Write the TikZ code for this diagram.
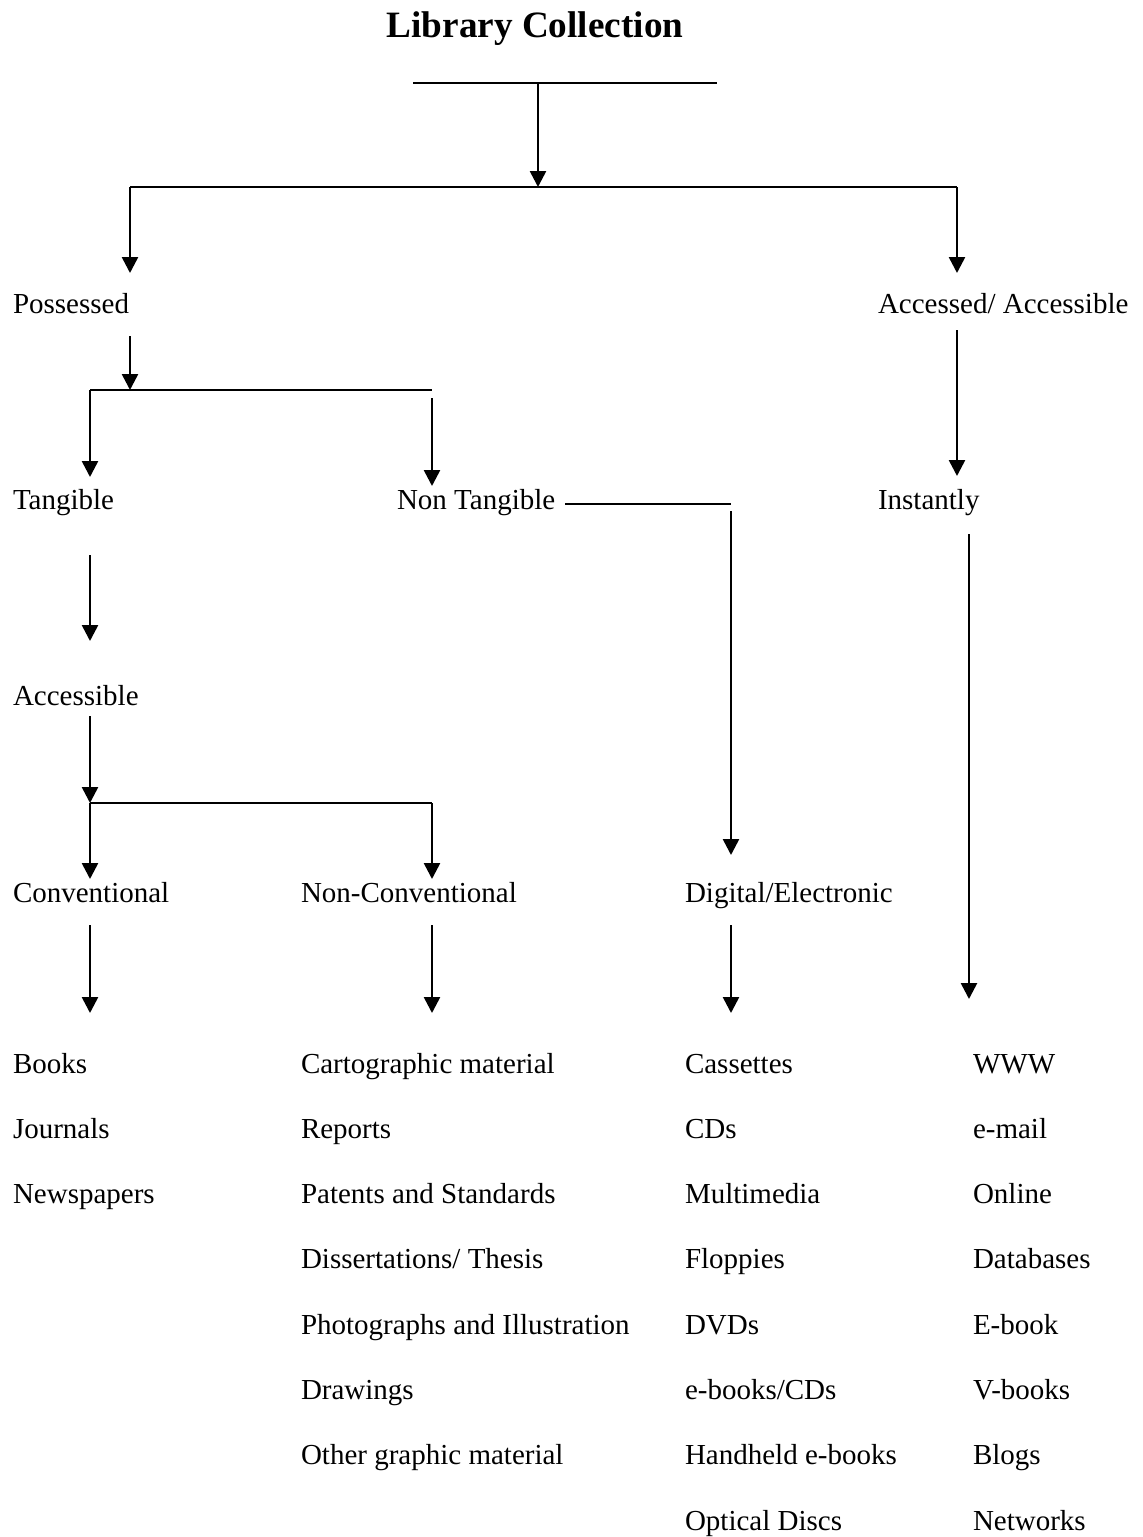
\documentclass[tikz,border=0pt]{standalone}
\usepackage{fontspec}
\setmainfont{Liberation Serif}
\usetikzlibrary{arrows.meta}

\tikzset{
  lbl/.style={anchor=base west,inner sep=0pt,font=\fontsize{14.5}{17}\selectfont},
  arr/.style={line width=1.3pt,-{Triangle[width=8pt,length=8pt]}},
}

\begin{document}
\begin{tikzpicture}[x=0.5pt,y=-0.5pt,line width=1pt]
  \useasboundingbox (0,0) rectangle (1143,1537);

  % Title
  \node[anchor=base,inner sep=0pt,font=\fontsize{18.6}{22}\selectfont\bfseries] (title) at (535,37) {Library Collection};

  % Headings
  \node[lbl] (poss) at (12,313) {Possessed};
  \node[lbl] (accd) at (877,313) {Accessed/ Accessible};
  \node[lbl] (tang) at (12,509) {Tangible};
  \node[lbl] (ntang) at (396,509) {Non Tangible};
  \node[lbl] (inst) at (877,509) {Instantly};
  \node[lbl] (accb) at (12,705) {Accessible};
  \node[lbl] (conv) at (12,902) {Conventional};
  \node[lbl] (nconv) at (300,902) {Non-Conventional};
  \node[lbl] (digi) at (684,902) {Digital/Electronic};

  % Lists of items
  \foreach \t [count=\i] in {Books,Journals,Newspapers}
    \node[lbl] (cv\i) at (12,{1073+65.3*(\i-1)}) {\t};
  \foreach \t [count=\i] in {Cartographic material,Reports,Patents and Standards,Dissertations/ Thesis,Photographs and Illustration,Drawings,Other graphic material}
    \node[lbl] (nc\i) at (300,{1073+65.3*(\i-1)}) {\t};
  \foreach \t [count=\i] in {Cassettes,CDs,Multimedia,Floppies,DVDs,e-books/CDs,Handheld e-books,Optical Discs}
    \node[lbl] (dg\i) at (684,{1073+65.3*(\i-1)}) {\t};
  \foreach \t [count=\i] in {WWW,e-mail,Online,Databases,E-book,V-books,Blogs,Networks}
    \node[lbl] (in\i) at (972,{1073+65.3*(\i-1)}) {\t};

  % Junction points
  \coordinate (tl) at (413,83);
  \coordinate (tm) at (538,83);
  \coordinate (tr) at (717,83);
  \coordinate (sm) at (538,187);
  \coordinate (sl) at (130,187);
  \coordinate (sr) at (957,187);
  \coordinate (pl) at (90,390);
  \coordinate (pm) at (130,390);
  \coordinate (pr) at (432,390);
  \coordinate (nl) at (565,504);
  \coordinate (nr) at (731,504);
  \coordinate (al) at (90,803);
  \coordinate (ar) at (432,803);

  % Top split
  \draw (tl) -- (tr);
  \draw[arr] (tm) -- (sm);
  \draw (sl) -- (sr);
  \draw[arr] (sl) -- (130,273);
  \draw[arr] (sr) -- (957,273);

  % Possessed branch
  \draw[arr] (130,336) -- (pm);
  \draw (pl) -- (pr);
  \draw[arr] (pl) -- (90,477);
  \draw[arr] (432,398) -- (432,486);
  \draw (nl) -- (nr);
  \draw[arr] (731,511) -- (731,855);
  \draw[arr] (90,555) -- (90,641);
  \draw[arr] (90,716) -- (al);
  \draw (al) -- (ar);
  \draw[arr] (al) -- (90,879);
  \draw[arr] (ar) -- (432,879);

  % Accessed branch
  \draw[arr] (957,330) -- (957,476);
  \draw[arr] (969,534) -- (969,999);

  % Down to the lists
  \draw[arr] (90,925) -- (90,1013);
  \draw[arr] (432,925) -- (432,1013);
  \draw[arr] (731,925) -- (731,1013);
\end{tikzpicture}
\end{document}
